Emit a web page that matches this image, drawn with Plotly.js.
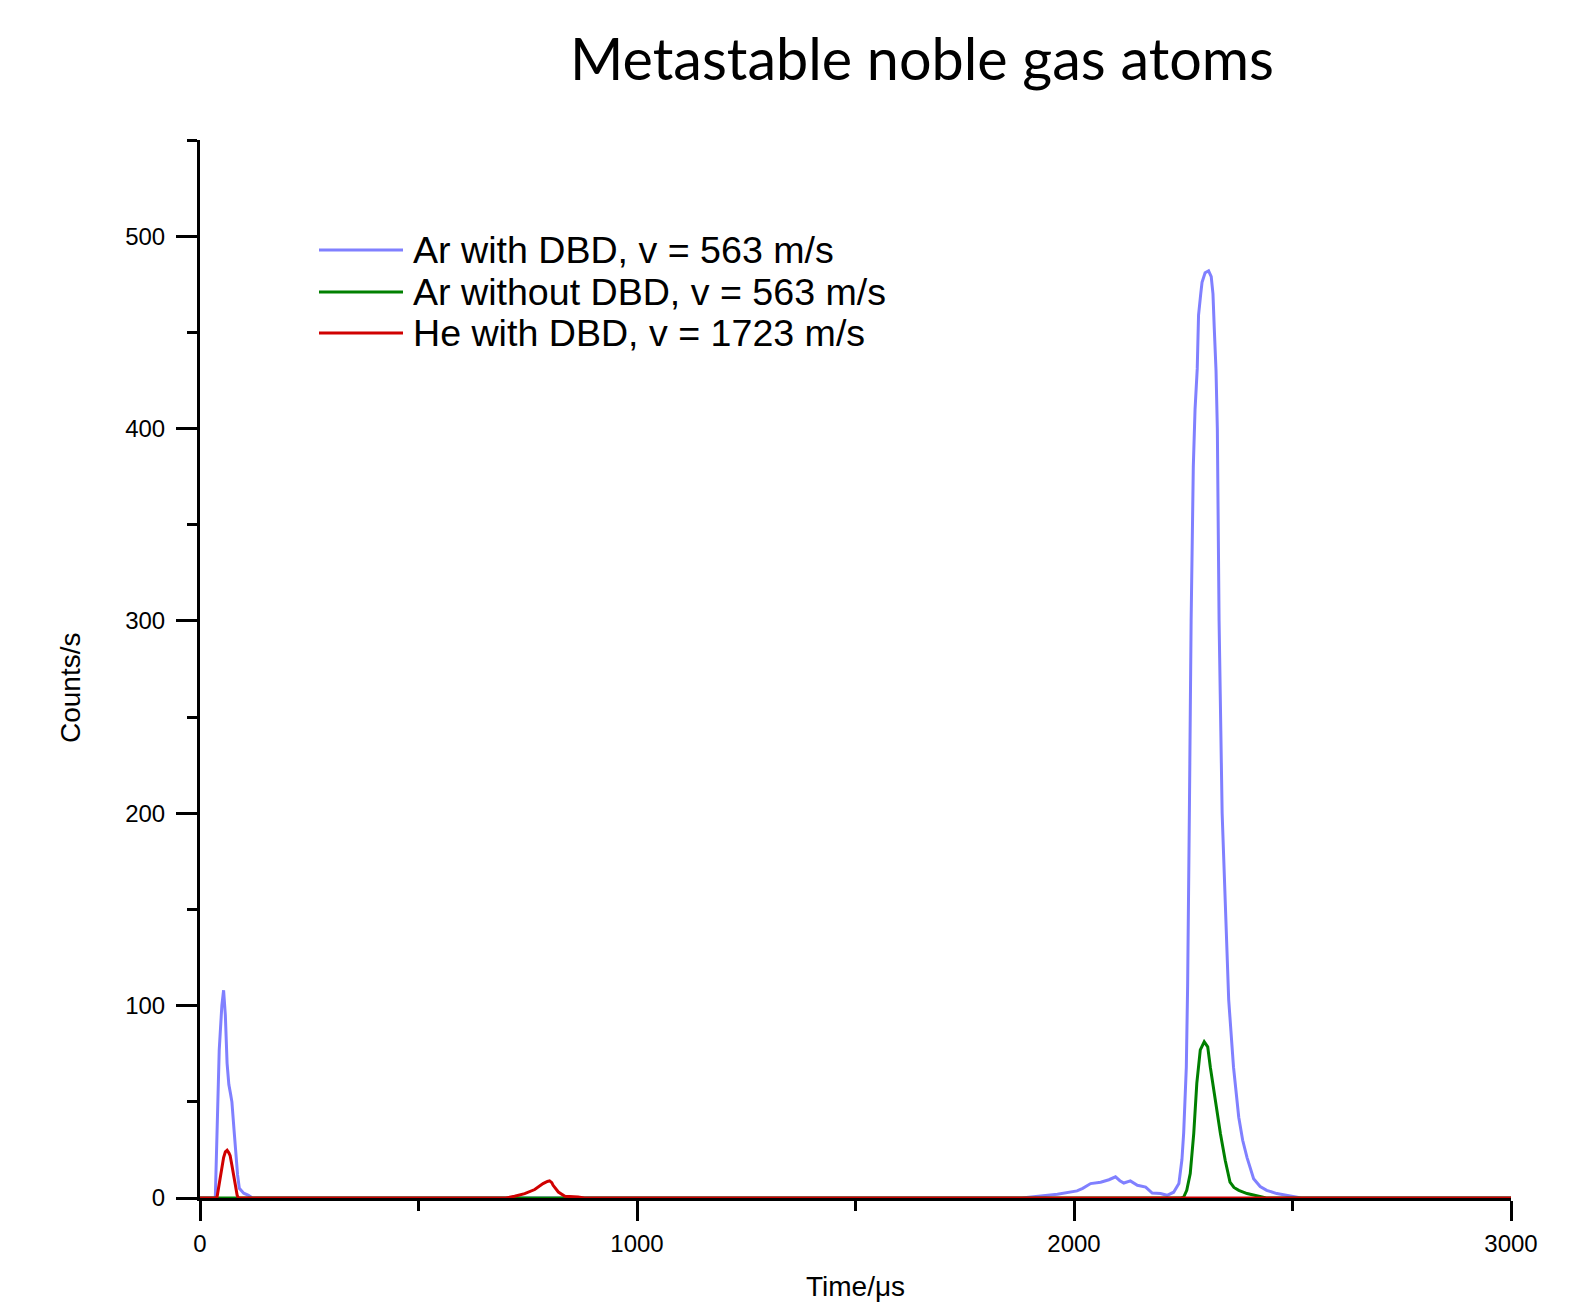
<!DOCTYPE html>
<html>
<head>
<meta charset="utf-8">
<script src="https://cdn.plot.ly/plotly-3.0.1.min.js"></script>
<style>html,body{margin:0;padding:0;background:#fff;}#chart{width:1588px;height:1302px;}</style>
</head>
<body>
<div id="chart"></div>
<script>
// ---- data ----
var seriesNames = ["Ar with DBD, v = 563 m/s", "Ar without DBD, v = 563 m/s", "He with DBD, v = 1723 m/s"];
var seriesColors = ["#8080ff", "#008000", "#d00000"];

var arDbdX = [0, 30, 35, 44, 50, 54, 58, 62, 66, 70, 73, 78, 81, 86, 90, 100, 111, 120,
  1880, 1893, 1930, 1962, 2007, 2020, 2038, 2061, 2080, 2095, 2105, 2114, 2129, 2145, 2164, 2179, 2198, 2213, 2228, 2240, 2247,
  2251, 2257, 2260, 2264, 2268, 2273, 2277, 2282, 2285, 2290, 2293, 2300, 2308, 2314, 2318, 2321, 2325, 2328, 2332, 2339, 2346,
  2354, 2365, 2377, 2386, 2396, 2411, 2426, 2441, 2464, 2495, 2520, 3000];
var arDbdY = [0, 0, 0, 77, 100, 108, 95, 70, 59, 54, 50, 35, 25, 12, 5, 2.5, 1.4, 0,
  0, 0.3, 1, 2, 3.7, 5, 7.5, 8.2, 9.5, 11, 9, 7.8, 8.9, 6.6, 5.7, 2.6, 2.3, 1.4, 3, 7.5, 20,
  34, 68, 110, 200, 300, 380, 410, 431, 459, 470, 476, 481, 482, 479, 470, 452, 430, 400, 300, 200, 150,
  103, 68, 42, 30, 21, 10, 6, 4, 2.3, 1, 0, 0];

var arNoDbdX = [0, 2245, 2251, 2258, 2266, 2274, 2281, 2289, 2298, 2306, 2312, 2323, 2335, 2346, 2357, 2366, 2377, 2396, 2419, 2440, 3000];
var arNoDbdY = [0, 0, 0.5, 4, 12.7, 33.5, 59.6, 77, 81.2, 78.6, 68, 51, 33.5, 19.6, 8.3, 5.5, 4, 2.3, 0.9, 0, 0];

var heDbdX = [0, 36, 39, 46, 50, 54, 58, 62, 66, 69, 73, 77, 81, 85, 88,
  700, 720, 743, 766, 785, 795, 800, 805, 808, 820, 835, 865, 880, 3000];
var heDbdY = [0, 0, 0.5, 11, 17, 21, 24, 24.8, 23.5, 22, 17, 11, 5, 1.4, 0,
  0, 0.9, 2.3, 4.4, 7.5, 8.6, 8.9, 8, 6.6, 3.1, 0.9, 0.5, 0, 0];

var xTickVals = [0, 1000, 2000, 3000];
var xTickText = ["0", "1000", "2000", "3000"];
var yTickVals = [0, 100, 200, 300, 400, 500];
var yTickText = ["0", "100", "200", "300", "400", "500"];

// ---- figure ----
var xs = [arDbdX, arNoDbdX, heDbdX];
var ys = [arDbdY, arNoDbdY, heDbdY];
var traces = xs.map(function (x, i) {
  return {
    type: "scatter", mode: "lines", x: x, y: ys[i], name: seriesNames[i],
    line: {color: seriesColors[i], width: 3}, showlegend: false, hoverinfo: "x+y+name"
  };
});

var L = 200, R = 77, T = 140, B = 104, W = 1588, H = 1302;
var pw = W - L - R, ph = H - T - B;
function px2x(px) { return (px - L) / pw; }
function py2y(py) { return (H - B - py) / ph; }

var labelFont = "Liberation Sans, Arial, sans-serif";
var legendRows = [250, 292, 333];
var shapes = [], annotations = [];
legendRows.forEach(function (py, i) {
  shapes.push({type: "line", xref: "paper", yref: "paper", x0: px2x(319), x1: px2x(403), y0: py2y(py), y1: py2y(py),
    line: {color: seriesColors[i], width: 3}});
  annotations.push({xref: "paper", yref: "paper", x: px2x(411), y: py2y(py), xanchor: "left", yanchor: "middle",
    text: seriesNames[i], showarrow: false, font: {family: labelFont, size: 37.6, color: "#000"}});
});
// y-axis title, placed as in the reference
annotations.push({xref: "paper", yref: "paper", x: px2x(70), y: py2y(688), xanchor: "center", yanchor: "middle",
  text: "Counts/s", textangle: -90, showarrow: false, font: {family: labelFont, size: 28, color: "#000"}});

var axisFont = {family: labelFont, size: 24, color: "#000"};
var layout = {
  width: W, height: H,
  margin: {l: L, r: R, t: T, b: B, pad: 0},
  paper_bgcolor: "#fff", plot_bgcolor: "#fff",
  showlegend: false,
  title: {text: "Metastable noble gas atoms", x: 922 / W, xref: "container", xanchor: "center",
    y: 1 - 60 / H, yref: "container", yanchor: "middle",
    font: {family: "Lato, Open Sans, sans-serif", size: 57.5, color: "#000"}},
  xaxis: {
    range: [0, 3000], tickmode: "array", tickvals: xTickVals, ticktext: xTickText,
    showline: true, linecolor: "#000", linewidth: 3, mirror: false,
    ticks: "outside", ticklen: 20, tickwidth: 3, tickcolor: "#000",
    minor: {tickmode: "array", tickvals: [500, 1500, 2500], ticks: "outside", ticklen: 10, tickwidth: 3, tickcolor: "#000", showgrid: false},
    showgrid: false, zeroline: false, tickfont: axisFont, ticklabelstandoff: 2,
    title: {text: "Time/μs", font: {family: labelFont, size: 28, color: "#000"}, standoff: 28},
    automargin: false
  },
  yaxis: {
    range: [0, 550], tickmode: "array", tickvals: yTickVals, ticktext: yTickText,
    showline: true, linecolor: "#000", linewidth: 3,
    ticks: "outside", ticklen: 21, tickwidth: 3, tickcolor: "#000",
    minor: {tickmode: "array", tickvals: [50, 150, 250, 350, 450, 550], ticks: "outside", ticklen: 10, tickwidth: 3, tickcolor: "#000", showgrid: false},
    showgrid: false, zeroline: false, tickfont: axisFont, ticklabelstandoff: 6,
    automargin: false
  },
  shapes: shapes,
  annotations: annotations
};

Plotly.newPlot("chart", traces, layout, {displayModeBar: false});
</script>
</body>
</html>
